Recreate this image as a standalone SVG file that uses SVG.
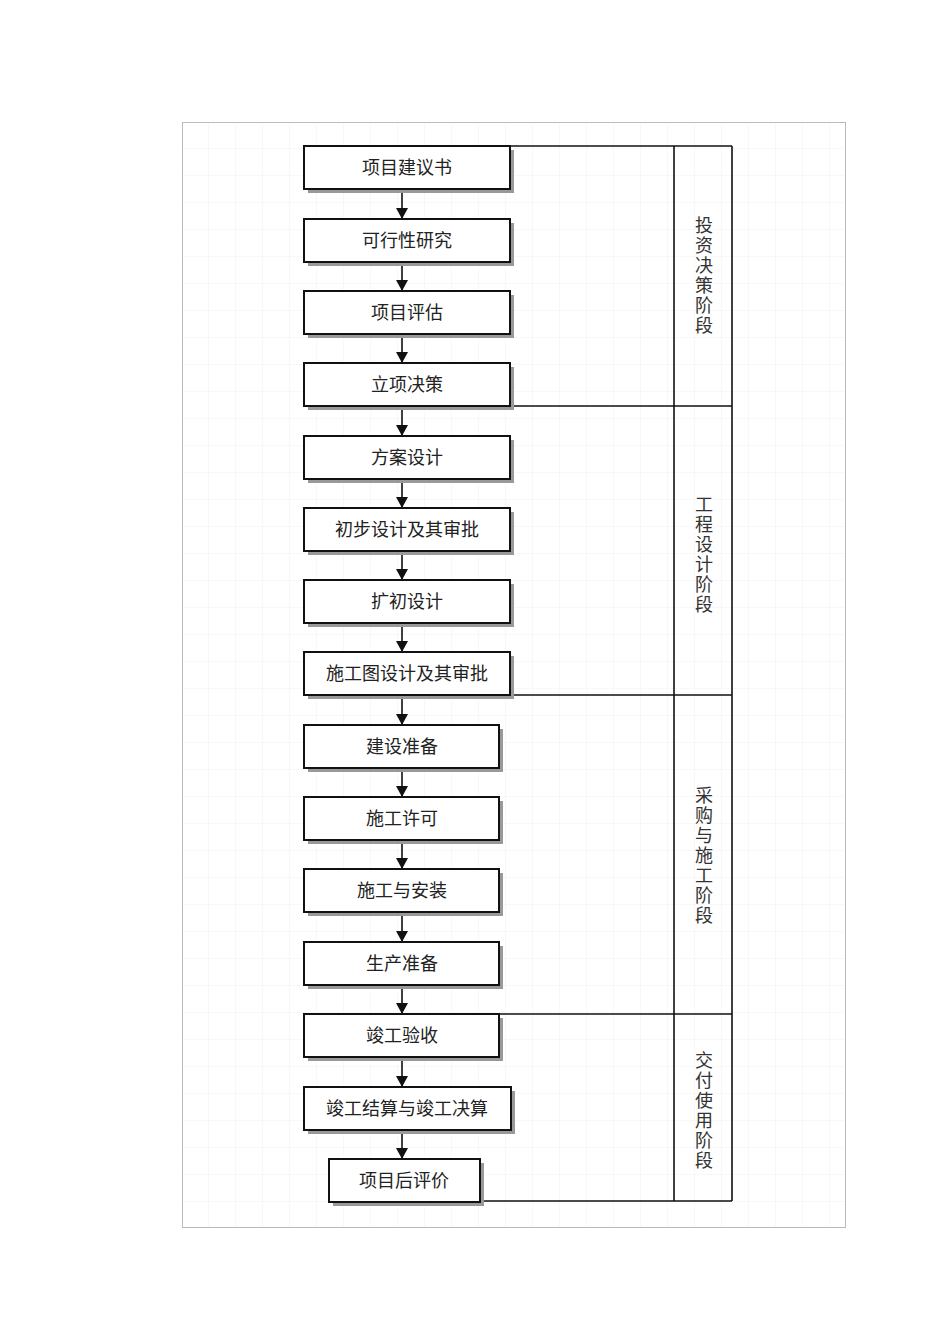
<svg xmlns="http://www.w3.org/2000/svg" width="950" height="1344" viewBox="0 0 950 1344">
<style>
.box{fill:#fff;stroke:#111;stroke-width:2}
.sh{fill:#999}
.t{font-family:"Liberation Serif","Noto Sans CJK SC",serif;font-size:18px;fill:#222;text-anchor:middle}
.p{font-family:"Liberation Serif","Noto Sans CJK SC",serif;font-size:18px;fill:#333;text-anchor:middle}
.ln{stroke:#111;stroke-width:1.6;fill:none}
</style>
<defs>
<marker id="ah" markerWidth="11" markerHeight="12" refX="11" refY="6" orient="auto" markerUnits="userSpaceOnUse" viewBox="0 0 11 12"><path d="M0,0 L11,6 L0,12 z" fill="#111"/></marker>
<pattern id="g" width="27" height="27" patternUnits="userSpaceOnUse" x="182" y="122"><path d="M27 0V27H0" fill="none" stroke="#f0f0f0" stroke-width="1"/></pattern>
</defs>
<rect x="0" y="0" width="950" height="1344" fill="#fff"/>
<rect x="182.5" y="122.5" width="663" height="1105" fill="url(#g)" stroke="#bbb" stroke-width="1"/>
<g id="phases" class="ln">
<line x1="304" y1="146" x2="732" y2="146"/>
<line x1="510" y1="406" x2="732" y2="406"/>
<line x1="510" y1="695" x2="732" y2="695"/>
<line x1="499" y1="1014" x2="732" y2="1014"/>
<line x1="480" y1="1201" x2="732" y2="1201"/>
<line x1="674" y1="146" x2="674" y2="1201"/>
<line x1="732" y1="146" x2="732" y2="1201"/>
</g>
<g id="phase1"><text class="p"><tspan x="704" y="232">投</tspan><tspan x="704" y="252">资</tspan><tspan x="704" y="272">决</tspan><tspan x="704" y="292">策</tspan><tspan x="704" y="312">阶</tspan><tspan x="704" y="332">段</tspan></text></g>
<g id="phase2"><text class="p"><tspan x="704" y="511">工</tspan><tspan x="704" y="531">程</tspan><tspan x="704" y="551">设</tspan><tspan x="704" y="571">计</tspan><tspan x="704" y="591">阶</tspan><tspan x="704" y="611">段</tspan></text></g>
<g id="phase3"><text class="p"><tspan x="704" y="802">采</tspan><tspan x="704" y="822">购</tspan><tspan x="704" y="842">与</tspan><tspan x="704" y="862">施</tspan><tspan x="704" y="882">工</tspan><tspan x="704" y="902">阶</tspan><tspan x="704" y="922">段</tspan></text></g>
<g id="phase4"><text class="p"><tspan x="704" y="1067">交</tspan><tspan x="704" y="1087">付</tspan><tspan x="704" y="1107">使</tspan><tspan x="704" y="1127">用</tspan><tspan x="704" y="1147">阶</tspan><tspan x="704" y="1167">段</tspan></text></g>
<g id="connectors" class="ln" marker-end="url(#ah)">
<line x1="402" y1="189" x2="402" y2="219"/>
<line x1="402" y1="262" x2="402" y2="291"/>
<line x1="402" y1="334" x2="402" y2="363"/>
<line x1="402" y1="406" x2="402" y2="436"/>
<line x1="402" y1="479" x2="402" y2="508"/>
<line x1="402" y1="551" x2="402" y2="580"/>
<line x1="402" y1="623" x2="402" y2="652"/>
<line x1="402" y1="695" x2="402" y2="725"/>
<line x1="402" y1="768" x2="402" y2="797"/>
<line x1="402" y1="840" x2="402" y2="869"/>
<line x1="402" y1="912" x2="402" y2="942"/>
<line x1="402" y1="985" x2="402" y2="1014"/>
<line x1="402" y1="1057" x2="402" y2="1087"/>
<line x1="402" y1="1130" x2="402" y2="1159"/>
</g>
<g id="n1"><rect class="sh" x="308" y="150" width="206" height="43"/><rect class="box" x="304" y="146" width="206" height="43"/><text class="t" x="407" y="174">项目建议书</text></g>
<g id="n2"><rect class="sh" x="308" y="223" width="206" height="43"/><rect class="box" x="304" y="219" width="206" height="43"/><text class="t" x="407" y="247">可行性研究</text></g>
<g id="n3"><rect class="sh" x="308" y="295" width="206" height="43"/><rect class="box" x="304" y="291" width="206" height="43"/><text class="t" x="407" y="319">项目评估</text></g>
<g id="n4"><rect class="sh" x="308" y="367" width="206" height="43"/><rect class="box" x="304" y="363" width="206" height="43"/><text class="t" x="407" y="391">立项决策</text></g>
<g id="n5"><rect class="sh" x="308" y="440" width="206" height="43"/><rect class="box" x="304" y="436" width="206" height="43"/><text class="t" x="407" y="464">方案设计</text></g>
<g id="n6"><rect class="sh" x="308" y="512" width="206" height="43"/><rect class="box" x="304" y="508" width="206" height="43"/><text class="t" x="407" y="536">初步设计及其审批</text></g>
<g id="n7"><rect class="sh" x="308" y="584" width="206" height="43"/><rect class="box" x="304" y="580" width="206" height="43"/><text class="t" x="407" y="608">扩初设计</text></g>
<g id="n8"><rect class="sh" x="308" y="656" width="206" height="43"/><rect class="box" x="304" y="652" width="206" height="43"/><text class="t" x="407" y="680">施工图设计及其审批</text></g>
<g id="n9"><rect class="sh" x="308" y="729" width="195" height="43"/><rect class="box" x="304" y="725" width="195" height="43"/><text class="t" x="402" y="753">建设准备</text></g>
<g id="n10"><rect class="sh" x="308" y="801" width="195" height="43"/><rect class="box" x="304" y="797" width="195" height="43"/><text class="t" x="402" y="825">施工许可</text></g>
<g id="n11"><rect class="sh" x="308" y="873" width="195" height="43"/><rect class="box" x="304" y="869" width="195" height="43"/><text class="t" x="402" y="897">施工与安装</text></g>
<g id="n12"><rect class="sh" x="308" y="946" width="195" height="43"/><rect class="box" x="304" y="942" width="195" height="43"/><text class="t" x="402" y="970">生产准备</text></g>
<g id="n13"><rect class="sh" x="308" y="1018" width="195" height="43"/><rect class="box" x="304" y="1014" width="195" height="43"/><text class="t" x="402" y="1042">竣工验收</text></g>
<g id="n14"><rect class="sh" x="308" y="1091" width="207" height="43"/><rect class="box" x="304" y="1087" width="207" height="43"/><text class="t" x="407" y="1115">竣工结算与竣工决算</text></g>
<g id="n15"><rect class="sh" x="333" y="1163" width="151" height="43"/><rect class="box" x="329" y="1159" width="151" height="43"/><text class="t" x="404" y="1187">项目后评价</text></g>
</svg>
